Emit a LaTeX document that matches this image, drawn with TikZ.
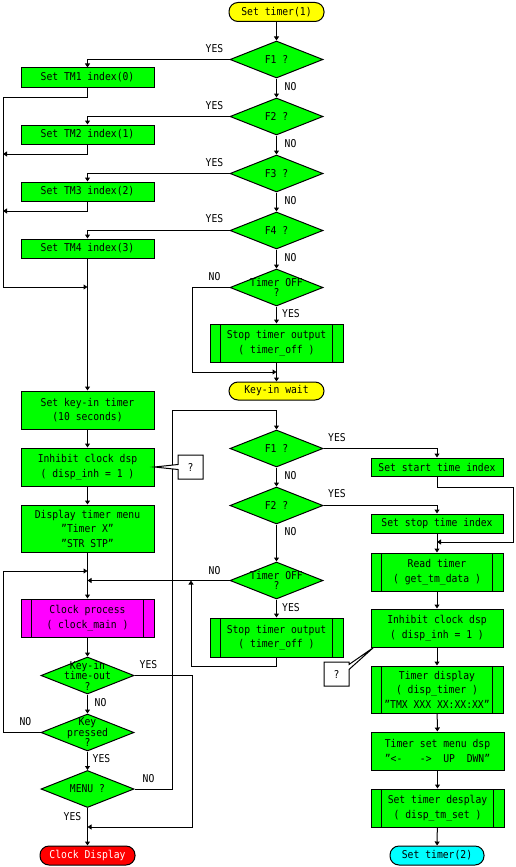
\documentclass[tikz,border=0pt]{standalone}
\usepackage{fontspec}
\newfontfamily\mono[FakeStretch=0.9]{DejaVu Sans Mono}
\usetikzlibrary{shapes.geometric,shapes.callouts,arrows.meta}
\definecolor{gr}{RGB}{0,255,0}
\definecolor{yl}{RGB}{255,255,0}
\definecolor{mg}{RGB}{255,0,255}
\definecolor{rd}{RGB}{255,0,0}
\definecolor{cy}{RGB}{0,255,255}
\begin{document}
\begin{tikzpicture}[x=1pt,y=-1pt,line width=1pt,
  every node/.style={font=\mono\fontsize{10.8}{14.5}\selectfont},
  box/.style={draw,fill=gr,minimum width=133pt,inner sep=0pt,align=center},
  sub/.style={box,path picture={\draw[line width=1pt]
     ([xshift=10.5pt]path picture bounding box.north west) -- ([xshift=10.5pt]path picture bounding box.south west)
     ([xshift=-10.5pt]path picture bounding box.north east) -- ([xshift=-10.5pt]path picture bounding box.south east);}},
  term/.style={draw,rounded corners=9pt,minimum width=95pt,minimum height=19pt,inner sep=0pt},
  dia/.style={draw,diamond,fill=gr,minimum width=93pt,minimum height=37pt,inner sep=0pt},
  dtext/.style={align=center,inner sep=0pt,font=\mono\fontsize{10.8}{10.5}\selectfont},
  lbl/.style={inner sep=0pt},
  arr/.style={-{Triangle[length=4pt,width=5pt]}},
  qbox/.style={rectangle callout,draw,fill=white,minimum width=25pt,minimum height=24pt,inner sep=0pt,callout pointer width=5pt}
]
\useasboundingbox (0,0) rectangle (515,867);

% ---- top part
\node[term,fill=yl] (st1) at (276.5,12) {Set timer(1)};
\node[dia] (f1) at (276.5,59.5) {}; \node[dtext] (f1t) at (f1) {F1 ?};
\node[dia] (f2) at (276.5,116.5) {}; \node[dtext] (f2t) at (f2) {F2 ?};
\node[dia] (f3) at (276.5,173.5) {}; \node[dtext] (f3t) at (f3) {F3 ?};
\node[dia] (f4) at (276.5,230.5) {}; \node[dtext] (f4t) at (f4) {F4 ?};
\node[dia] (to1) at (276.5,287.5) {}; \node[dtext] (to1t) at (to1) {Timer OFF\\?};
\node[box,minimum height=19pt] (tm1) at (87.5,77.5) {Set TM1 index(0)};
\node[box,minimum height=19pt] (tm2) at (87.5,134.5) {Set TM2 index(1)};
\node[box,minimum height=19pt] (tm3) at (87.5,191.5) {Set TM3 index(2)};
\node[box,minimum height=19pt] (tm4) at (87.5,248.5) {Set TM4 index(3)};
\node[sub,minimum height=38pt] (stop1) at (276.5,343) {Stop timer output\\( timer\_off )};
\node[term,fill=yl,minimum height=18pt] (kw) at (276.5,391) {Key-in wait};

% ---- left column
\node[box,minimum height=38pt] (keyin) at (87.5,410) {Set key-in timer\\(10 seconds)};
\node[box,minimum height=38pt] (inhL) at (87.5,467) {Inhibit clock dsp\\( disp\_inh = 1 )};
\node[box,minimum height=47pt] (menu) at (87.5,528.5) {Display timer menu\\”Timer X”\\”STR STP”};
\node[sub,fill=mg,minimum height=38pt] (clock) at (87.5,618) {Clock process\\( clock\_main )};
\node[dia] (kto) at (87.5,675.5) {}; \node[dtext] (ktot) at (kto) {Key-in\\time-out\\?};
\node[dia] (kp) at (87.5,732.5) {}; \node[dtext] (kpt) at (kp) {Key\\pressed\\?};
\node[dia] (mn) at (87.5,789) {}; \node[dtext] (mnt) at (mn) {MENU ?};
\node[term,fill=rd,text=white] (cd) at (87.5,855.5) {Clock Display};

% ---- middle column
\node[dia] (f1b) at (276.5,448.5) {}; \node[dtext] (f1bt) at (f1b) {F1 ?};
\node[dia] (f2b) at (276.5,505.5) {}; \node[dtext] (f2bt) at (f2b) {F2 ?};
\node[dia] (to2) at (276.5,580.5) {}; \node[dtext] (to2t) at (to2) {Timer OFF\\?};
\node[sub,minimum height=39pt] (stop2) at (276.5,637.5) {Stop timer output\\( timer\_off )};

% ---- right column
\node[box,minimum width=132pt,minimum height=18pt] (ss) at (437,467) {Set start time index};
\node[box,minimum width=132pt,minimum height=19pt] (sp) at (437,523.5) {Set stop time index};
\node[sub,minimum width=132pt,minimum height=38pt] (rdt) at (437,572) {Read timer\\( get\_tm\_data )};
\node[box,minimum width=132pt,minimum height=38pt] (inhR) at (437,628) {Inhibit clock dsp\\( disp\_inh = 1 )};
\node[sub,minimum width=132pt,minimum height=47pt] (td) at (437,689.5) {Timer display\\( disp\_timer )\\”TMX XXX XX:XX:XX”};
\node[box,minimum height=38pt] (ts) at (437.5,751) {Timer set menu dsp\\”<-~~~->~~UP~~DWN”};
\node[sub,minimum height=38pt] (sd) at (437.5,808) {Set timer desplay\\( disp\_tm\_set )};
\node[term,fill=cy,minimum width=94pt] (st2) at (437,855.5) {Set timer(2)};

% ---- merge points
\coordinate (j1) at (87.5,287);
\coordinate (j2) at (276.5,372);
\coordinate (j3) at (87.5,571);
\coordinate (j4) at (87.5,580.5);
\coordinate (j5) at (87.5,827);
\coordinate (j6) at (437,542);
\coordinate (j7) at (191,580.5);
\coordinate (m2) at (3,154);
\coordinate (m3) at (3,211);

% ---- connectors top
\draw[arr] (st1) -- (f1);
\draw[arr] (f1) -- (f2);
\draw[arr] (f2) -- (f3);
\draw[arr] (f3) -- (f4);
\draw[arr] (f4) -- (to1);
\draw[arr] (f1.west) -| (tm1.north);
\draw[arr] (f2.west) -| (tm2.north);
\draw[arr] (f3.west) -| (tm3.north);
\draw[arr] (f4.west) -| (tm4.north);
\draw[arr] (tm1.south) -- ++(0,9.5) -| (3,287) -- (j1);
\draw[arr] (tm2.south) |- (m2);
\draw[arr] (tm3.south) |- (m3);
\draw[arr] (tm4.south) -- (keyin.north);
\draw[arr] (to1.west) -| (192,372) -- (j2);
\draw[arr] (to1) -- (stop1);
\draw[arr] (stop1) -- (kw);

% ---- connectors left
\draw[arr] (keyin) -- (inhL);
\draw[arr] (inhL) -- (menu);
\draw[arr] (menu) -- (clock);
\draw[arr] (clock) -- (kto);
\draw[arr] (kto) -- (kp);
\draw[arr] (kp) -- (mn);
\draw[arr] (mn) -- (cd);
\draw[arr] (kto.east) -| (192,827) -- (j5);
\draw[arr] (kp.west) -| (3,571) -- (j3);
\draw[arr] (mn.east) -| (172,410) -| (f1b.north);

% ---- connectors middle/right
\draw[arr] (f1b) -- (f2b);
\draw[arr] (f2b) -- (to2);
\draw[arr] (f1b.east) -| (ss.north);
\draw[arr] (f2b.east) -| (sp.north);
\draw[arr] (ss.south) -- ++(0,11) -| (513,542) -- (j6);
\draw[arr] (sp) -- (rdt);
\draw[arr] (rdt) -- (inhR);
\draw[arr] (inhR) -- (td);
\draw[arr] (td) -- (ts);
\draw[arr] (ts) -- (sd);
\draw[arr] (sd) -- (st2);
\draw[arr] (to2.west) -- (j4);
\draw[arr] (to2) -- (stop2);
\draw[arr] (stop2.south) -- ++(0,9) -| (j7);

% ---- labels
\node[lbl] (y1) at (214.5,49) {YES};  \node[lbl] (n1) at (290.5,87) {NO};
\node[lbl] (y2) at (214.5,106) {YES}; \node[lbl] (n2) at (290.5,144) {NO};
\node[lbl] (y3) at (214.5,163) {YES}; \node[lbl] (n3) at (290.5,201) {NO};
\node[lbl] (y4) at (214.5,219) {YES}; \node[lbl] (n4) at (290.5,257.5) {NO};
\node[lbl] (n5) at (214.5,277) {NO};  \node[lbl] (y5) at (291,314) {YES};
\node[lbl] (y6) at (337,438) {YES};   \node[lbl] (n6) at (290.5,476) {NO};
\node[lbl] (y7) at (337,494) {YES};   \node[lbl] (n7) at (290.5,532) {NO};
\node[lbl] (n8) at (214.5,571) {NO};  \node[lbl] (y8) at (291,608) {YES};
\node[lbl] (y9) at (148.5,665) {YES}; \node[lbl] (n9) at (100.5,703) {NO};
\node[lbl] (n10) at (25.5,722) {NO};  \node[lbl] (y10) at (101.5,759) {YES};
\node[lbl] (n11) at (148.5,779) {NO}; \node[lbl] (y11) at (72.5,817) {YES};

% ---- callouts
\node[qbox,callout absolute pointer={(inhL.east)}] (q1) at (190.5,467) {?};
\node[qbox,callout absolute pointer={([xshift=3pt]inhR.south west)}] (q2) at (336.5,674) {?};
\end{tikzpicture}
\end{document}
